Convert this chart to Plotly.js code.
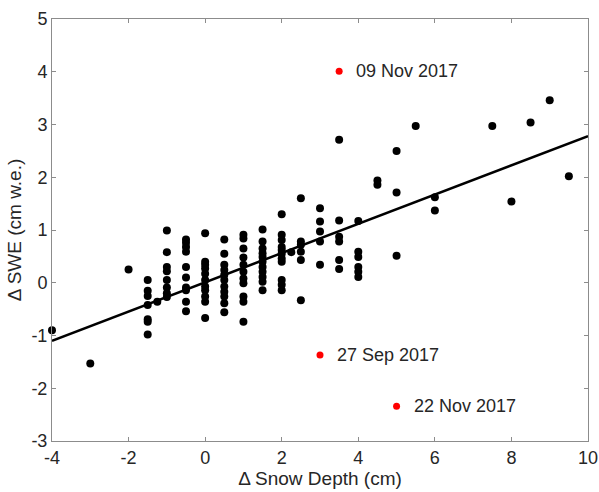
<!DOCTYPE html>
<html>
<head>
<meta charset="utf-8">
<script src="https://cdn.plot.ly/plotly-3.0.1.min.js"></script>
<style>html,body{margin:0;padding:0;background:#fff;}#chart{width:599px;height:492px;}</style>
</head>
<body>
<div id="chart"></div>
<script>
// Black scatter points: snow depth change (x) and SWE change (y)
const depthX = [
  -4, -3, -2, -1.25,
  -1.5, -1.5, -1.5, -1.5, -1.5, -1.5, -1.5,
  -1, -1, -1, -1, -1, -1, -1, -1,
  -0.5, -0.5, -0.5, -0.5, -0.5, -0.5, -0.5, -0.5, -0.5, -0.5,
  0, 0, 0, 0, 0, 0, 0, 0, 0, 0, 0,
  0.5, 0.5, 0.5, 0.5, 0.5, 0.5, 0.5, 0.5, 0.5, 0.5, 0.5,
  1, 1, 1, 1, 1, 1, 1, 1, 1, 1, 1,
  1.5, 1.5, 1.5, 1.5, 1.5, 1.5, 1.5, 1.5, 1.5, 1.5, 1.5,
  2, 2, 2, 2, 2, 2, 2, 2, 2, 2, 2, 2.25,
  2.5, 2.5, 2.5, 2.5, 2.5, 2.5,
  3, 3, 3, 3, 3,
  3.5, 3.5, 3.5, 3.5, 3.5, 3.5,
  4, 4, 4, 4, 4, 4,
  4.5, 4.5,
  5, 5, 5,
  5.5, 6, 6, 7.5, 8, 8.5, 9, 9.5
];
const sweY = [
  -0.90, -1.53, 0.25, -0.36,
  0.05, -0.15, -0.25, -0.42, -0.69, -0.74, -0.98,
  0.99, 0.58, 0.30, 0.22, 0.05, -0.09, -0.20, -0.27,
  0.82, 0.76, 0.68, 0.59, 0.30, 0.10, -0.09, -0.14, -0.36, -0.54,
  0.94, 0.40, 0.34, 0.27, 0.17, 0.05, -0.07, -0.14, -0.26, -0.36, -0.67,
  0.82, 0.55, 0.34, 0.24, 0.15, 0.05, -0.07, -0.17, -0.26, -0.39, -0.56,
  0.91, 0.84, 0.65, 0.48, 0.34, 0.21, 0.08, -0.01, -0.26, -0.36, -0.74,
  1.01, 0.78, 0.65, 0.56, 0.49, 0.40, 0.30, 0.21, 0.11, 0.02, -0.14,
  1.30, 0.91, 0.81, 0.68, 0.62, 0.55, 0.46, 0.40, 0.05, -0.04, -0.14, 0.58,
  1.60, 0.78, 0.72, 0.59, 0.43, -0.33,
  1.41, 1.16, 0.97, 0.78, 0.34,
  2.71, 1.18, 0.87, 0.78, 0.43, 0.26,
  1.17, 0.59, 0.49, 0.30, 0.21, 0.11,
  1.94, 1.86,
  2.50, 1.71, 0.51,
  2.97, 1.62, 1.37, 2.97, 1.54, 3.04, 3.46, 2.02
];
// Highlighted outlier dates
const outlierX = [3.5, 3, 5];
const outlierY = [4.01, -1.37, -2.34];
const outlierLabels = ['09 Nov 2017', '27 Sep 2017', '22 Nov 2017'];
// Regression line end points
const fitX = [-4, 10];
const fitY = [-1.10, 2.78];
const xTicks = [-4, -2, 0, 2, 4, 6, 8, 10];
const yTicks = [-3, -2, -1, 0, 1, 2, 3, 4, 5];

const fam = 'Liberation Sans, Arial, sans-serif';
const tickFont = {family: fam, size: 18, color: '#262626'};
const titleFont = {family: fam, size: 19, color: '#262626'};
const annFont = {family: fam, size: 18, color: '#262626'};

const traces = [
  {x: depthX, y: sweY, type: 'scatter', mode: 'markers', cliponaxis: false,
   marker: {color: '#000', size: 8}},
  {x: fitX, y: fitY, type: 'scatter', mode: 'lines',
   line: {color: '#000', width: 2.5}},
  {x: outlierX, y: outlierY, type: 'scatter', mode: 'markers',
   marker: {color: '#ff0000', size: 7}}
];

const annotations = outlierLabels.map((t, i) => ({
  x: outlierX[i], y: outlierY[i], text: t, showarrow: false,
  xanchor: 'left', yanchor: 'middle', xshift: 15, font: annFont
}));

const axisCommon = {
  showgrid: false, zeroline: false, showline: true, mirror: 'ticks',
  linecolor: '#8c8c8c', linewidth: 1, ticks: 'inside', ticklen: 4,
  tickcolor: '#8c8c8c', tickfont: tickFont
};

const layout = {
  width: 599, height: 492,
  margin: {l: 52, r: 11, t: 19, b: 51},
  paper_bgcolor: '#fff', plot_bgcolor: '#fff',
  showlegend: false,
  font: tickFont,
  xaxis: Object.assign({}, axisCommon, {
    range: [-4, 10], tickvals: xTicks, ticktext: xTicks.map(String),
    title: {text: 'Δ Snow Depth (cm)', font: titleFont, standoff: 1}
  }),
  yaxis: Object.assign({}, axisCommon, {
    range: [-3, 5], tickvals: yTicks, ticktext: yTicks.map(String),
    title: {text: 'Δ SWE (cm w.e.)', font: titleFont, standoff: 4}
  }),
  annotations: annotations
};

Plotly.newPlot('chart', traces, layout, {displayModeBar: false, staticPlot: true});
</script>
</body>
</html>
